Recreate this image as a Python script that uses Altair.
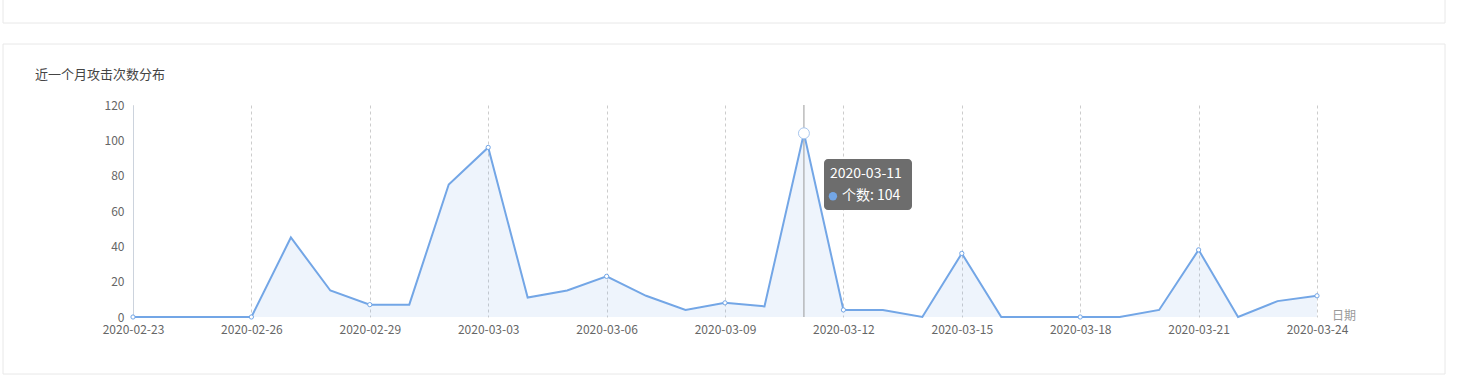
import altair as alt
import pandas as pd

# ---- data ----
dates = [
    "2020-02-23", "2020-02-24", "2020-02-25", "2020-02-26", "2020-02-27",
    "2020-02-28", "2020-02-29", "2020-03-01", "2020-03-02", "2020-03-03",
    "2020-03-04", "2020-03-05", "2020-03-06", "2020-03-07", "2020-03-08",
    "2020-03-09", "2020-03-10", "2020-03-11", "2020-03-12", "2020-03-13",
    "2020-03-14", "2020-03-15", "2020-03-16", "2020-03-17", "2020-03-18",
    "2020-03-19", "2020-03-20", "2020-03-21", "2020-03-22", "2020-03-23",
    "2020-03-24",
]
counts = [0, 0, 0, 0, 45, 15, 7, 7, 75, 96,
          11, 15, 23, 12, 4, 8, 6, 104, 4, 4,
          0, 36, 0, 0, 0, 0, 4, 38, 0, 9,
          12]
tick_dates = ["2020-02-23", "2020-02-26", "2020-02-29", "2020-03-03",
              "2020-03-06", "2020-03-09", "2020-03-12", "2020-03-15",
              "2020-03-18", "2020-03-21", "2020-03-24"]
y_ticks = [0, 20, 40, 60, 80, 100, 120]
hover_date = "2020-03-11"
title_text = "近一个月攻击次数分布"
x_name = "日期"
series_name = "个数"

df = pd.DataFrame({"date": dates, "count": counts})
one = pd.DataFrame({"a": [0]})

FONT = "Noto Sans CJK SC"
BLUE = "#73a6e6"
W, H = 1184, 212

x_enc = alt.X(
    "date:O",
    sort=None,
    scale=alt.Scale(type="point", padding=0, domain=dates),
    axis=alt.Axis(
        title=None, values=tick_dates, labelAngle=0, domain=False, ticks=False,
        grid=True, gridDash=[3, 3], gridColor="#cccccc", gridWidth=1,
        labelColor="#666666", labelFontSize=12, labelFont=FONT,
        labelPadding=7, labelOverlap=False,
    ),
)
y_enc = alt.Y(
    "count:Q",
    scale=alt.Scale(domain=[0, 120], nice=False),
    axis=alt.Axis(
        title=None, values=y_ticks, domain=True, domainColor="#ccd3dd",
        ticks=False, grid=False, labelColor="#666666", labelFontSize=12,
        labelFont=FONT, labelPadding=9, labelOverlap=False, labelFlush=False,
    ),
)

base = alt.Chart(df)

cards = alt.Chart(one).mark_rect(fill="transparent", stroke="#e8e8e8", strokeWidth=1).encode(
    x=alt.value(-130), x2=alt.value(1312), y=alt.value(-125), y2=alt.value(-82)
) + alt.Chart(one).mark_rect(fill="transparent", stroke="#e8e8e8", strokeWidth=1).encode(
    x=alt.value(-130), x2=alt.value(1312), y=alt.value(-61), y2=alt.value(269)
)

area = base.mark_area(color=BLUE, opacity=0.12).encode(x=x_enc, y=y_enc)

hover_df = base.transform_filter(alt.datum.date == hover_date)

hover_rule = hover_df.mark_rule(color="#999999", strokeWidth=1).encode(
    x=x_enc, y=alt.value(0), y2=alt.value(H)
)

line = base.mark_line(color=BLUE, strokeWidth=2).encode(x=x_enc, y=y_enc)

markers = base.transform_filter(
    alt.FieldOneOfPredicate(field="date", oneOf=tick_dates)
).mark_point(filled=True, fill="white", stroke=BLUE, strokeWidth=1, size=18, opacity=1).encode(
    x=x_enc, y=y_enc
)

hover_pt = hover_df.mark_point(
    filled=True, fill="white", stroke="#a9c7ee", strokeWidth=1, size=120, opacity=1
).encode(x=x_enc, y=y_enc)

tip_box = alt.Chart(one).mark_rect(fill="#6d6d6d", cornerRadius=4).encode(
    x=alt.value(691), x2=alt.value(779), y=alt.value(54), y2=alt.value(105)
)

tip_date = hover_df.mark_text(
    align="left", baseline="middle", dx=26, dy=41, color="white", fontSize=14, font=FONT
).encode(x=x_enc, y=y_enc, text="date:N")
tip_dot = hover_df.mark_circle(color=BLUE, size=70, opacity=1, xOffset=29, yOffset=63).encode(
    x=x_enc, y=y_enc
)
tip_val = hover_df.transform_calculate(
    label="'" + series_name + ": ' + datum.count"
).mark_text(
    align="left", baseline="middle", dx=38, dy=63, color="white", fontSize=14, font=FONT
).encode(x=x_enc, y=y_enc, text="label:N")

x_label = alt.Chart(one).mark_text(
    align="left", baseline="middle", color="#999999", fontSize=12, font=FONT
).encode(x=alt.value(1199), y=alt.value(211), text=alt.value(x_name))

title = alt.Chart(one).mark_text(
    align="left", baseline="middle", color="#444444", fontSize=13, font=FONT
).encode(x=alt.value(-98), y=alt.value(-30), text=alt.value(title_text))

chart = alt.layer(
    area, cards, title, hover_rule, line, markers, hover_pt,
    tip_box, tip_date, tip_dot, tip_val, x_label
).properties(
    width=W, height=H,
    autosize=alt.AutoSizeParams(type="none"),
    padding={"left": 133, "top": 105, "right": 1484 - 133 - W, "bottom": 380 - 105 - H},
).configure(
    background="white", view=alt.ViewConfig(stroke="transparent", strokeWidth=0)
).configure_axis(labelOverlap=False)

chart.save("out.html", embed_options={"renderer": "svg", "actions": False})
